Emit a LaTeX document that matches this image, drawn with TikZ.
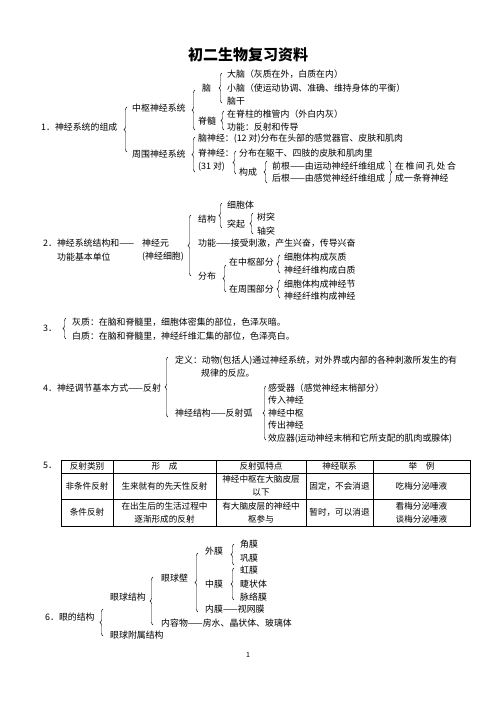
\documentclass[tikz,border=0pt]{standalone}
\usepackage{fontspec}
\setmainfont{Noto Sans CJK SC}
\usetikzlibrary{decorations.pathreplacing}

\begin{document}
\begin{tikzpicture}[x=1pt, y=-1pt,
        txt/.style={anchor=west, inner sep=0pt, font=\fontsize{8.9}{10}\selectfont},
        lbr/.style={decorate, decoration={brace, amplitude=3pt}, line width=0.45pt},
        cell/.style={inner sep=0pt, align=center, font=\fontsize{8.6}{13}\selectfont},
        rule/.style={line width=0.5pt},
        frame/.style={line width=1pt}
    ]
        \useasboundingbox (0,0) rectangle (496,702);
        \node[inner sep=0pt, font=\fontsize{15}{15}\selectfont\bfseries] (title) at (248,55) {初二生物复习资料};
        % 1
        \node[txt] (s1) at (41,127) {1．神经系统的组成};
        \draw[lbr] (127,152) -- (127,107);
        \node[txt] (zs) at (132,108) {中枢神经系统};
        \node[txt] (zw) at (132,154) {周围神经系统};
        \draw[lbr] (195,130) -- (195,90);
        \node[txt] (nao) at (202,88) {脑};
        \draw[lbr] (222,103) -- (222,73);
        \node[txt] (dn) at (227,74) {大脑（灰质在外，白质在内）};
        \node[txt] (xn) at (227,88) {小脑（使运动协调、准确、维持身体的平衡）};
        \node[txt] (ng) at (227,101) {脑干};
        \node[txt] (js) at (198,121) {脊髓};
        \draw[lbr] (224,130) -- (224,111);
        \node[txt] (js1) at (227,114) {在脊柱的椎管内（外白内灰）};
        \node[txt] (js2) at (227,127) {功能：反射和传导};
        \draw[lbr] (195,172) -- (195,137);
        \node[txt] (nsj) at (198,139) {脑神经：(12 对)分布在头部的感觉器官、皮肤和肌肉};
        \node[txt] (jsj) at (198,153) {脊神经：};
        \node[txt] (jsj2) at (198,167) {(31 对)};
        \draw[lbr] (236,174) -- (236,151);
        \node[txt] (fb) at (239,153) {分布在躯干、四肢的皮肤和肌肉里};
        \node[txt] (gc) at (239,172) {构成};
        \draw[lbr] (267,183) -- (267,161);
        \node[txt] (qg) at (272,166) {前根——由运动神经纤维组成};
        \node[txt] (hg) at (272,178) {后根——由感觉神经纤维组成};
        \draw[lbr] (389,161) -- (389,183);
        \node[txt] (hc1) at (395,166) {在\,椎\,间\,孔\,处\,合};
        \node[txt] (hc2) at (395,178) {成一条脊神经};
        % 2
        \node[txt] (s2a) at (43,243) {2．神经系统结构和——};
        \node[txt] (s2b) at (57,257) {功能基本单位};
        \node[txt] (sjy) at (142,243) {神经元};
        \node[txt] (sjy2) at (142,257) {(神经细胞)};
        \draw[lbr] (191,276) -- (191,215);
        \node[txt] (jg) at (198,219) {结构};
        \draw[lbr] (222,228) -- (222,203);
        \node[txt] (xbt) at (227,205) {细胞体};
        \node[txt] (tq) at (227,224) {突起};
        \draw[lbr] (253,234) -- (253,213);
        \node[txt] (sht) at (257,217) {树突};
        \node[txt] (zht) at (257,231) {轴突};
        \node[txt] (gn) at (198,243) {功能——接受刺激，产生兴奋，传导兴奋};
        \node[txt] (fbu) at (198,276) {分布};
        \draw[lbr] (226,292) -- (226,265);
        \node[txt] (zsb) at (229,262) {在中枢部分};
        \draw[lbr] (280,273) -- (280,255);
        \node[txt] (hz) at (284,257) {细胞体构成灰质};
        \node[txt] (bz) at (284,270) {神经纤维构成白质};
        \node[txt] (zwb) at (229,289) {在周围部分};
        \draw[lbr] (280,298) -- (280,280);
        \node[txt] (sjj) at (284,284) {细胞体构成神经节};
        \node[txt] (sj) at (284,296) {神经纤维构成神经};
        % 3
        \node[txt] (s3) at (43,328) {3．};
        \draw[lbr] (66,339) -- (66,318);
        \node[txt] (hzh) at (72,322) {灰质：在脑和脊髓里，细胞体密集的部位，色泽灰暗。};
        \node[txt] (bzh) at (72,336) {白质：在脑和脊髓里，神经纤维汇集的部位，色泽亮白。};
        % 4
        \node[txt] (s4) at (43,388) {4．神经调节基本方式——反射};
        \draw[lbr] (168,417) -- (168,357);
        \node[txt] (dy) at (175,361) {定义：动物(包括人)通过神经系统，对外界或内部的各种刺激所发生的有};
        \node[txt] (dy2) at (201,373) {规律的反应。};
        \node[txt] (fsh) at (175,413) {神经结构——反射弧};
        \draw[lbr] (266,440) -- (266,386);
        \node[txt] (gsq) at (268,388) {感受器（感觉神经末梢部分）};
        \node[txt] (crs) at (268,400) {传入神经};
        \node[txt] (sjz) at (268,413) {神经中枢};
        \node[txt] (ccs) at (268,425) {传出神经};
        \node[txt] (xyq) at (268,439) {效应器(运动神经末梢和它所支配的肌肉或腺体)};
        % 5
        \node[txt] (s5) at (43,465) {5．};
        \draw[frame] (61,460) rectangle (470,526);
        \draw[rule] (61,473) -- (470,473);
        \draw[rule] (61,499) -- (470,499);
        \foreach \cx in {113,216,306,373}
            \draw[rule] (\cx,460) -- (\cx,526);
        \node[cell] (h1) at (87,466.5) {反射类别};
        \node[cell] (h2) at (164.5,466.5) {形\quad 成};
        \node[cell] (h3) at (261,466.5) {反射弧特点};
        \node[cell] (h4) at (339.5,466.5) {神经联系};
        \node[cell] (h5) at (421.5,466.5) {举\quad 例};
        \node[cell] (a1) at (87,486) {非条件反射};
        \node[cell] (a2) at (164.5,486) {生来就有的先天性反射};
        \node[cell] (a3) at (261,486) {神经中枢在大脑皮层\\以下};
        \node[cell] (a4) at (339.5,486) {固定，不会消退};
        \node[cell] (a5) at (421.5,486) {吃梅分泌唾液};
        \node[cell] (b1) at (87,512.5) {条件反射};
        \node[cell] (b2) at (164.5,512.5) {在出生后的生活过程中\\逐渐形成的反射};
        \node[cell] (b3) at (261,512.5) {有大脑皮层的神经中\\枢参与};
        \node[cell] (b4) at (339.5,512.5) {暂时，可以消退};
        \node[cell] (b5) at (421.5,512.5) {看梅分泌唾液\\谈梅分泌唾液};
        % 6
        \node[txt] (s6) at (45,617) {6．眼的结构};
        \draw[lbr] (103,636) -- (103,609);
        \node[txt] (yqjg) at (110,597) {眼球结构};
        \node[txt] (fsjg) at (110,635) {眼球附属结构};
        \draw[lbr] (153,625) -- (153,577);
        \node[txt] (yqb) at (161,578) {眼球壁};
        \node[txt] (nrw) at (161,623) {内容物——房水、晶状体、玻璃体};
        \draw[lbr] (198,612) -- (198,553);
        \node[txt] (wm) at (205,551) {外膜};
        \node[txt] (zm) at (205,584) {中膜};
        \node[txt] (nm) at (205,609) {内膜——视网膜};
        \draw[lbr] (234,565) -- (234,544);
        \node[txt] (jm) at (240,544) {角膜};
        \node[txt] (gm) at (240,558) {巩膜};
        \draw[lbr] (234,600) -- (234,568);
        \node[txt] (hm) at (240,570) {虹膜};
        \node[txt] (jzt) at (240,584) {睫状体};
        \node[txt] (mlm) at (240,597) {脉络膜};
        \node[inner sep=0pt, font=\fontsize{7}{7}\selectfont] (pg) at (248,655) {1};
    \end{tikzpicture}
\end{document}
